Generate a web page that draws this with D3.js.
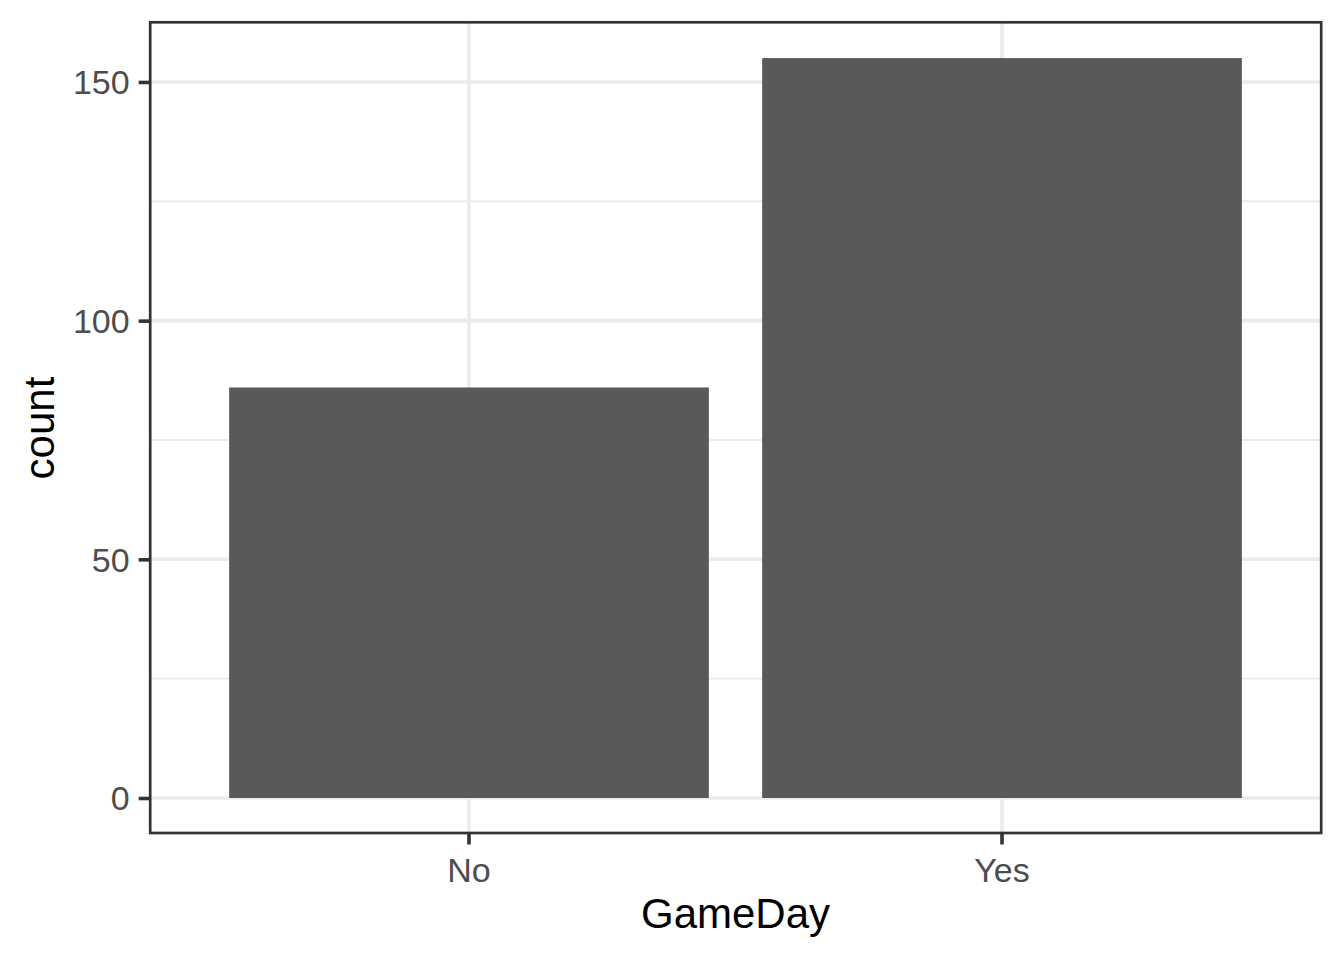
<!DOCTYPE html>
<html>
<head>
<meta charset="utf-8">
<script src="https://cdn.jsdelivr.net/npm/d3@7"></script>
<style>
  html, body { margin: 0; padding: 0; background: #fff; }
  svg { display: block; font-family: "Liberation Sans", Arial, sans-serif; }
</style>
</head>
<body>
<svg id="chart" width="1344" height="960"></svg>
<script>
const categories = ["No", "Yes"];
const counts = [86, 155];
const yTicks = [0, 50, 100, 150];
const yMinorTicks = [25, 75, 125];
const xTitle = "GameDay";
const yTitle = "count";

const svg = d3.select("#chart");
const panel = { left: 149.2, right: 1321.8, top: 21.1, bottom: 835 };

const maxV = d3.max(counts);
const pad = maxV * 0.05;
const y = d3.scaleLinear().domain([-pad, maxV + pad]).range([panel.bottom, panel.top]);
const x = d3.scaleBand().domain(categories).range([panel.left, panel.right])
  .paddingInner(0.1).paddingOuter(0.15).align(0.5);

// background
svg.append("rect").attr("x", panel.left).attr("y", panel.top)
  .attr("width", panel.right - panel.left).attr("height", panel.bottom - panel.top)
  .attr("fill", "#fff");

// minor grid
svg.append("g").selectAll("line").data(yMinorTicks).join("line")
  .attr("x1", panel.left).attr("x2", panel.right)
  .attr("y1", d => y(d)).attr("y2", d => y(d))
  .attr("stroke", "#EBEBEB").attr("stroke-width", 1.9);

// major grid
svg.append("g").selectAll("line").data(yTicks).join("line")
  .attr("x1", panel.left).attr("x2", panel.right)
  .attr("y1", d => y(d)).attr("y2", d => y(d))
  .attr("stroke", "#EBEBEB").attr("stroke-width", 3.6);
svg.append("g").selectAll("line").data(categories).join("line")
  .attr("y1", panel.top).attr("y2", panel.bottom)
  .attr("x1", d => x(d) + x.bandwidth() / 2).attr("x2", d => x(d) + x.bandwidth() / 2)
  .attr("stroke", "#EBEBEB").attr("stroke-width", 3.6);

// bars
svg.append("g").selectAll("rect").data(categories).join("rect")
  .attr("x", d => x(d))
  .attr("width", x.bandwidth())
  .attr("y", (d, i) => y(counts[i]))
  .attr("height", (d, i) => y(0) - y(counts[i]))
  .attr("fill", "#595959");

// border
svg.append("rect")
  .attr("x", panel.left + 1.0).attr("y", panel.top + 1.2)
  .attr("width", panel.right - panel.left - 1.6).attr("height", panel.bottom - panel.top - 3.2)
  .attr("fill", "none").attr("stroke", "#333333").attr("stroke-width", 2.7);

// y axis
const yAxis = d3.axisLeft(y).tickValues(yTicks).tickSize(11).tickPadding(9).tickFormat(d3.format("d"));
const gy = svg.append("g").attr("transform", `translate(${panel.left + 0.5},0)`).call(yAxis);
gy.select(".domain").remove();
gy.selectAll(".tick line").attr("stroke", "#333333").attr("stroke-width", 3.6);
gy.selectAll(".tick text").attr("fill", "#4D4D4D").attr("font-size", 34)
  .attr("font-family", "Liberation Sans, Arial, sans-serif").attr("dy", "0.35em");

// x axis
const xAxis = d3.axisBottom(x).tickSize(11).tickPadding(13);
const gx = svg.append("g").attr("transform", `translate(0,${panel.bottom - 1.5})`).call(xAxis);
gx.select(".domain").remove();
gx.selectAll(".tick line").attr("stroke", "#333333").attr("stroke-width", 3.6);
gx.selectAll(".tick text").attr("fill", "#4D4D4D").attr("font-size", 34)
  .attr("font-family", "Liberation Sans, Arial, sans-serif").attr("dy", "0.71em");

// titles
svg.append("text").attr("x", (panel.left + panel.right) / 2).attr("y", 928)
  .attr("text-anchor", "middle").attr("font-size", 42).attr("fill", "#000").text(xTitle);
svg.append("text")
  .attr("transform", `translate(54,${(panel.top + panel.bottom) / 2}) rotate(-90)`)
  .attr("text-anchor", "middle").attr("font-size", 42).attr("fill", "#000").text(yTitle);
</script>
</body>
</html>
